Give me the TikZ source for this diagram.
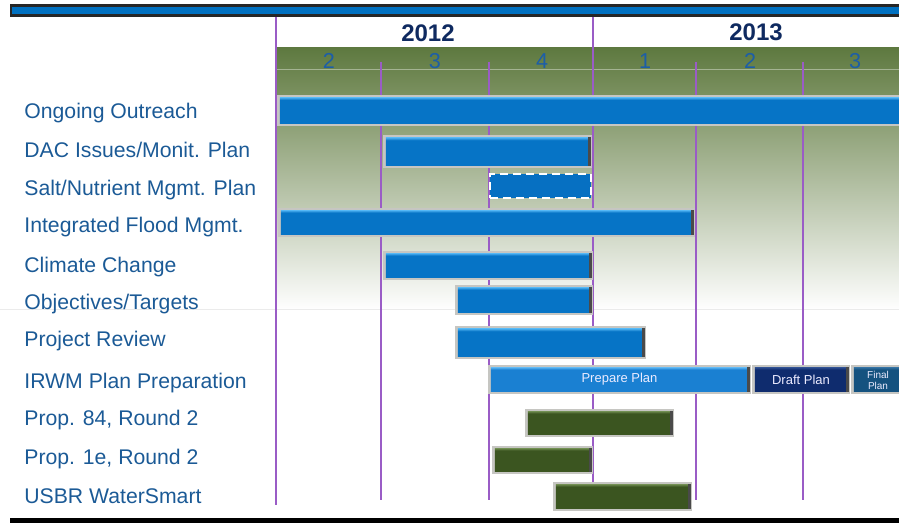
\documentclass[tikz,border=0pt]{standalone}
\usepackage{fontspec}
\setmainfont{Liberation Sans}
\usetikzlibrary{fit}

\definecolor{lblue}{HTML}{1B5A96}
\definecolor{yearblue}{HTML}{0F2A60}
\definecolor{qblue}{HTML}{1C5EA8}
\definecolor{grid}{HTML}{9A5CC6}
\definecolor{hdtop}{HTML}{5E7940}
\definecolor{hdbot}{HTML}{7B9160}
\definecolor{hdline}{HTML}{A4B492}
\definecolor{topblue}{HTML}{0070C0}
\definecolor{frame}{HTML}{C6C6C2}
\definecolor{capgray}{HTML}{4A4A4A}
\definecolor{bluehi}{HTML}{4CB0F0}
\definecolor{bluemid}{HTML}{0674C6}
\definecolor{bluelo}{HTML}{1A4F80}
\definecolor{prephi}{HTML}{5AB4F2}
\definecolor{prepmid}{HTML}{1A80D2}
\definecolor{preplo}{HTML}{1A5A90}
\definecolor{drafthi}{HTML}{2E4E90}
\definecolor{draftmid}{HTML}{0F2C6E}
\definecolor{draftlo}{HTML}{0A1E50}
\definecolor{finalhi}{HTML}{3270A0}
\definecolor{finalmid}{HTML}{15527F}
\definecolor{finallo}{HTML}{0E3A5E}
\definecolor{greenhi}{HTML}{6D8A4E}
\definecolor{greenmid}{HTML}{3B5520}
\definecolor{greenlo}{HTML}{2A3E16}
\definecolor{saltblue}{HTML}{0670C2}

\pgfdeclareverticalshading{bluebev}{100bp}{color(0bp)=(bluelo); color(25bp)=(bluelo); color(29bp)=(bluemid); color(67bp)=(bluemid); color(71bp)=(bluehi); color(100bp)=(bluehi)}
\pgfdeclareverticalshading{prepbev}{100bp}{color(0bp)=(preplo); color(25bp)=(preplo); color(29bp)=(prepmid); color(67bp)=(prepmid); color(71bp)=(prephi); color(100bp)=(prephi)}
\pgfdeclareverticalshading{draftbev}{100bp}{color(0bp)=(draftlo); color(25bp)=(draftlo); color(29bp)=(draftmid); color(67bp)=(draftmid); color(71bp)=(drafthi); color(100bp)=(drafthi)}
\pgfdeclareverticalshading{finalbev}{100bp}{color(0bp)=(finallo); color(25bp)=(finallo); color(29bp)=(finalmid); color(67bp)=(finalmid); color(71bp)=(finalhi); color(100bp)=(finalhi)}
\pgfdeclareverticalshading{greenbev}{100bp}{color(0bp)=(greenlo); color(25bp)=(greenlo); color(29bp)=(greenmid); color(67bp)=(greenmid); color(71bp)=(greenhi); color(100bp)=(greenhi)}

\begin{document}
\begin{tikzpicture}[x=0.5pt, y=-0.5pt,
  lbl/.style={anchor=base west, inner sep=0pt, text=lblue, font=\fontsize{10.6}{12}\selectfont},
  yr/.style={inner sep=0pt, text=yearblue, font=\fontsize{12}{14}\selectfont\bfseries},
  qtr/.style={inner sep=0pt, text=qblue, font=\fontsize{10.8}{12}\selectfont},
  bar/.style={inner sep=0pt, fill=frame, path picture={
    \shade[shading=#1] ([shift={(1.4pt,-1.3pt)}]path picture bounding box.north west) rectangle ([shift={(-1.4pt,1.3pt)}]path picture bounding box.south east);
    \fill[capgray] ([shift={(-2.2pt,-1pt)}]path picture bounding box.north east) rectangle ([shift={(-0.6pt,1pt)}]path picture bounding box.south east);}},
  bartext/.style={inner sep=0pt, text=white!92!blue, font=\fontsize{6.5}{7}\selectfont},
  saltbox/.style={inner sep=0pt, fill=saltblue, draw=white, line width=0.8pt, dash pattern=on 4pt off 2.5pt}]
\useasboundingbox (0,0) rectangle (899,523);
\clip (0,0) rectangle (899,523);

% background of the chart
\shade[top color=hdtop, bottom color=hdbot] (276,48) rectangle (905,95);
\shade[top color=hdbot, bottom color=white] (276,95) rectangle (905,310);
\draw[hdline, line width=0.4pt] (276,69) -- (905,69);
\draw[black!8, line width=0.4pt] (0,309) -- (905,309);

% top and bottom rules
\fill[black!85] (10,4) rectangle (905,17);
\fill[topblue] (12,7) rectangle (905,14);
\fill[black] (10,518) rectangle (905,523);

% grid lines
\draw[grid, line width=1pt] (276,17) -- (276,505);
\draw[grid, line width=0.75pt] (593,17) -- (593,500);
\draw[grid, line width=0.75pt] (381,62) -- (381,500);
\draw[grid, line width=0.75pt] (489,62) -- (489,500);
\draw[grid, line width=0.75pt] (696,62) -- (696,500);
\draw[grid, line width=0.75pt] (803,62) -- (803,500);

% years and quarters
\node[yr] (y1) at (428,33) {2012};
\node[yr] (y2) at (756,32) {2013};
\node[qtr] (q1) at (329,61) {2};
\node[qtr] (q2) at (435,61) {3};
\node[qtr] (q3) at (542,61) {4};
\node[qtr] (q4) at (645,61) {1};
\node[qtr] (q5) at (750,61) {2};
\node[qtr] (q6) at (855,61) {3};

% task names
\node[lbl] (l1) at (24,119) {Ongoing Outreach};
\node[lbl] (l2) at (24,158) {DAC Issues/Monit. Plan};
\node[lbl] (l3) at (24,196) {Salt/Nutrient Mgmt. Plan};
\node[lbl] (l4) at (24,233) {Integrated Flood Mgmt.};
\node[lbl] (l5) at (24,273) {Climate Change};
\node[lbl] (l6) at (24,310) {Objectives/Targets};
\node[lbl] (l7) at (24,347) {Project Review};
\node[lbl] (l8) at (24,388) {IRWM Plan Preparation};
\node[lbl] (l9) at (24,425) {Prop. 84, Round 2};
\node[lbl] (l10) at (24,464) {Prop. 1e, Round 2};
\node[lbl] (l11) at (24,503) {USBR WaterSmart};

% bars
\node[bar=bluebev, fit={(277,95)(905,126)}] (b1) {};
\node[bar=bluebev, fit={(383,135)(592,168)}] (b2) {};
\node[saltbox, fit={(490,174)(591,198)}] (b3) {};
\node[bar=bluebev, fit={(278,208)(695,237)}] (b4) {};
\node[bar=bluebev, fit={(383,251)(593,280)}] (b5) {};
\node[bar=bluebev, fit={(455,285)(593,315)}] (b6) {};
\node[bar=bluebev, fit={(455,326)(646,359)}] (b7) {};
\node[bar=prepbev, fit={(488,365)(751,394)}] (b8) {};
\node[bar=draftbev, fit={(752,365)(850,394)}] (b8d) {};
\node[bar=finalbev, fit={(851,365)(905,394)}] (b8f) {};
\node[bartext] (t8) at (b8.center) {Prepare Plan};
\node[bartext] (t8d) at (b8d.center) {Draft Plan};
\node[bartext, align=center, font=\fontsize{5}{5.5}\selectfont] (t8f) at (878,380) {Final\\Plan};
\node[bar=greenbev, fit={(525,409)(674,437)}] (b9) {};
\node[bar=greenbev, fit={(492,446)(593,474)}] (b10) {};
\node[bar=greenbev, fit={(553,482)(692,511)}] (b11) {};
\end{tikzpicture}
\end{document}
